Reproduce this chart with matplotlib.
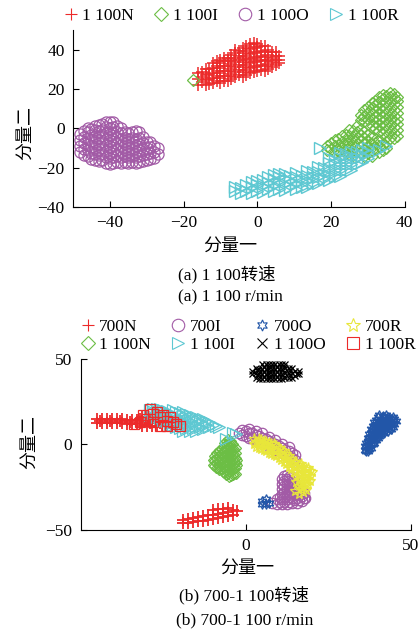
import numpy as np
import matplotlib
matplotlib.use("Agg")
import matplotlib.pyplot as plt
from matplotlib.lines import Line2D

plt.rcParams['font.family'] = ['Liberation Serif', 'Noto Sans CJK SC']
plt.rcParams['font.size'] = 12.5

# colours
red = '#EC2A2A'
green = '#6CBE45'
purple = '#A25BA6'
cyan = '#5EC8D2'
blue = '#2256A8'
yellow = '#E8E63A'

# points, kept as columns: (x, [y values at that x])
# ---- (a) 1 100 r/min
n1100_a = [(-16, [22, 25, 28]), (-14, [22, 24.5, 27, 30]), (-12, [23, 25.5, 28, 30.5, 33]),
           (-10, [23, 25.5, 28, 30.5, 33, 35]), (-8, [24, 26.5, 29, 31.5, 34, 36]),
           (-6, [26, 28.5, 31, 33.5, 36, 38.5, 40]), (-4, [26, 28.5, 31, 33.5, 36, 38.5, 41]),
           (-2, [28, 30.5, 33, 35.5, 38, 40.5, 43]), (0, [29, 31.5, 34, 36.5, 39, 41.5, 43]),
           (2, [29, 31.5, 34, 36.5, 39, 42]), (4, [31, 33.5, 36, 39]), (6, [33, 35, 37]),
           (-15, [23.5, 26, 28.5]), (-13, [22.5, 25, 27.5, 30]),
           (-11, [24, 26.5, 29, 31.5, 34]), (-9, [24, 26.5, 29, 31.5, 34, 36]),
           (-7, [25, 27.5, 30, 32.5, 35, 37.5]), (-5, [27, 29.5, 32, 34.5, 37, 39.5]),
           (-3, [27, 29.5, 32, 34.5, 37, 39.5, 42]), (-1, [28.5, 31, 33.5, 36, 38.5, 41, 43.5]),
           (1, [29.5, 32, 34.5, 37, 39.5, 42]), (3, [30, 32.5, 35, 37.5, 40]),
           (5, [32, 34.5, 37, 39])]
i1100_a = [(-17.5, [24.5]),
           (28, [4, 7]), (30, [2, 5, 8, 11]), (32, [0, 3, 6, 9, 12, 14]),
           (34, [-3, 0, 3, 6, 9, 12, 15, 17]), (36, [-5, -2, 1, 4, 7, 10, 13, 16, 18]),
           (38, [-4, -1, 2, 5, 8, 11, 14, 16]),
           (29, [3.5, 6.5, 9.5]), (31, [1.5, 4.5, 7.5, 10.5, 13]),
           (33, [-1.5, 1.5, 4.5, 7.5, 10.5, 13.5, 16]),
           (35, [-4.5, -1.5, 1.5, 4.5, 7.5, 10.5, 13.5, 16.5]),
           (37, [-5, -2.5, 0.5, 3.5, 6.5, 9.5, 12.5, 15.5, 17.5]),
           (19, [-11, -9]), (21, [-12, -9, -6]), (23, [-13, -10, -7, -4]),
           (25, [-13, -10, -7, -4, -1]), (27, [-14, -11, -8, -5, -2, 1]),
           (29, [-14, -11, -8, -5, -2]), (31, [-14, -11, -8, -5]), (33, [-12, -9, -6]),
           (35, [-10, -7]), (20, [-10.5, -7.5]), (22, [-11.5, -8.5, -5.5]),
           (24, [-12.5, -9.5, -6.5, -3.5]), (26, [-13.5, -10.5, -7.5, -4.5, -1.5]),
           (28, [-12.5, -9.5, -6.5, -3.5, -0.5]), (30, [-12.5, -9.5, -6.5, -3.5]),
           (32, [-10.5, -7.5]), (34, [-11, -8])]
o1100_a = [(-48, [-12, -9, -6, -3]), (-46, [-14, -11, -8, -5, -2, 0]),
           (-44, [-16, -13, -10, -7, -4, -1, 1]), (-42, [-16, -13, -10, -7, -4, -1, 2]),
           (-40, [-18, -15, -12, -9, -6, -3, 0, 3]), (-38, [-17, -14, -11, -8, -5, -2, 1]),
           (-36, [-17, -14, -11, -8, -5, -2]), (-34, [-17, -14, -11, -8, -5, -2]),
           (-32, [-17, -14, -11, -8, -5, -2]), (-30, [-16, -13, -10, -7]),
           (-28, [-15, -12, -9]),
           (-47, [-13.5, -10.5, -7.5, -4.5, -1.5]), (-45, [-15.5, -12.5, -9.5, -6.5, -3.5, -0.5]),
           (-43, [-16.5, -13.5, -10.5, -7.5, -4.5, -1.5, 1.5]),
           (-41, [-17.5, -14.5, -11.5, -8.5, -5.5, -2.5, 0.5, 3]),
           (-39, [-17.5, -14.5, -11.5, -8.5, -5.5, -2.5, 0.5, 3]),
           (-37, [-17.5, -14.5, -11.5, -8.5, -5.5, -2.5, 0]),
           (-35, [-17.5, -14.5, -11.5, -8.5, -5.5, -2.5]),
           (-33, [-17.5, -14.5, -11.5, -8.5, -5.5, -1.5]),
           (-31, [-16.5, -13.5, -10.5, -7.5, -4.5]), (-29, [-15.5, -12.5, -9.5, -7]),
           (-27, [-13, -10])]
r1100_a = [(-6, [-32, -30]), (-3, [-32, -29]), (0, [-32, -29, -27]), (3, [-31, -28, -25]),
           (6, [-31, -28, -25, -23]), (9, [-30, -27, -24]), (12, [-30, -27, -24]),
           (15, [-28, -25, -22]), (18, [-26, -23, -20]), (21, [-24, -21, -18, -16]),
           (24, [-21, -18, -15, -13]), (27, [-18, -15, -12]), (30, [-15, -12, -10]),
           (33, [-11]), (17, [-10]), (35, [-9]),
           (-4.5, [-33, -30.5]), (-1.5, [-33, -30, -27.5]), (1.5, [-32.5, -29.5, -26.5]),
           (4.5, [-32, -29, -26, -23.5]), (7.5, [-31.5, -28.5, -25.5, -23]),
           (10.5, [-31, -28, -25, -22.5]), (13.5, [-30, -27, -24, -21.5]),
           (16.5, [-28, -25, -22, -19.5]), (19.5, [-26.5, -23.5, -20.5, -17.5, -15]),
           (22.5, [-24, -21, -18, -15, -12.5]), (25.5, [-21, -18, -15, -12]),
           (28.5, [-17, -14, -11])]

# ---- (b) 700-1 100 r/min
n700_b = [(-45, [12.5, 15]), (-43.5, [12.5, 15]), (-42, [12.5, 15]), (-40.5, [12.5, 15]),
          (-39, [12.5, 15]), (-37.5, [12.5, 15]), (-36, [12, 14.5]), (-34.5, [12, 14.5]),
          (-33, [12, 14.5]), (-31.5, [11, 13.5, 16]), (-30, [11, 13.5, 16]),
          (-28.5, [11, 13.5, 16]), (-27, [11, 13.5, 16]), (-25.5, [11, 13.5, 16]),
          (-24, [11, 13.5, 16]), (-22.5, [11, 13.5]), (-21, [11, 13.5]), (-19.5, [12]),
          (-44, [13.8]), (-41, [13.8]), (-38, [13.8]), (-35, [13.3]), (-32, [12.3, 14.8]),
          (-29, [12.3, 14.8]), (-26, [12.3, 14.8]), (-23, [12.3, 14.8]), (-20, [12.3]),
          (-19, [-46, -44]), (-17.5, [-46, -43.5]), (-16, [-45.5, -43]),
          (-14.5, [-45, -42.5]), (-13, [-44.5, -42]), (-11.5, [-44, -41.5]),
          (-10, [-43.5, -41, -38.5]), (-8.5, [-43, -40.5, -38]), (-7, [-42.5, -40, -37.5]),
          (-5.5, [-42, -39.5, -37]), (-4, [-41, -38.5]), (-2.5, [-39])]
i700_b = [(-2, [7]), (0, [5, 8]), (2, [4, 7]), (4, [2, 5]), (6, [0, 3]), (8, [-2, 1]),
          (10, [-4, -1]), (12, [-6, -3]), (14, [-8, -5]),
          (-1, [5.5, 8.5]), (1, [3.5, 6.5, 9]), (3, [2.5, 5.5, 8]), (5, [1, 4, 6.5]),
          (7, [-1, 2, 4.5]), (9, [-3, 0, 2.5]), (11, [-5, -2, 0.5]), (13, [-7, -4, -1.5]),
          (15, [-9, -6]),
          (8, [-34]), (9.5, [-35, -32]), (11, [-35, -32, -29, -26, -23, -20]),
          (12.5, [-35, -32, -29, -26, -23, -20, -18]), (14, [-34, -31, -28, -25, -22, -19]),
          (15.5, [-34, -31, -28, -25]), (17, [-33, -30, -27]), (18, [-31]),
          (10.25, [-33.5, -30.5]), (11.75, [-33.5, -30.5, -27.5, -24.5, -21.5, -18.5]),
          (13.25, [-33.5, -30.5, -27.5, -24.5, -21.5, -19]),
          (14.75, [-32.5, -29.5, -26.5, -23.5, -20.5]), (16.25, [-32.5, -29.5, -26.5]),
          (17.75, [-31.5, -28.5])]
o700_b = [(36, [-3, -1]), (37, [-4, -1, 2, 4]), (38, [-2, 1, 4, 7, 9]),
          (39, [1, 4, 7, 10, 13]), (40, [4, 7, 10, 13, 16]), (41, [6, 9, 12, 15]),
          (42, [7, 10, 13, 16]), (43, [8, 11, 14, 16]), (44, [9, 12, 15]), (45, [12, 15]),
          (36.5, [-4, -1.5, 1]), (37.5, [-2.5, 0.5, 3.5, 6]), (38.5, [0, 3, 6, 8.5, 11]),
          (39.5, [2.5, 5.5, 8.5, 11.5, 14.5]), (40.5, [5, 8, 11, 14, 17]),
          (41.5, [7.5, 10.5, 13.5, 16.5]), (42.5, [8.5, 11.5, 14.5, 17]),
          (43.5, [9.5, 12.5, 15.5]), (44.5, [10.5, 13.5, 16]), (45.5, [13.5]),
          (5, [-33, -35]), (6, [-32, -35]), (7, [-34])]
r700_b = [(2.5, [0, 3]), (4, [-2, 1, 3]), (5.5, [-3, 0, 2]), (7, [-5, -2, 1]),
          (8.5, [-6, -3, 0]), (10, [-8, -5, -2]), (11.5, [-10, -7, -4]),
          (13, [-13, -10, -7]), (14.5, [-16, -13, -10]), (16, [-24, -21, -18, -15, -12]),
          (17.5, [-28, -25, -22, -19, -16, -13]), (19, [-23, -20, -17, -14]), (20, [-16]),
          (15, [-27]), (16, [-29]),
          (3.25, [-1.5, 1.5]), (4.75, [-2.5, 0.5, 2.5]), (6.25, [-4, -1, 1.5]),
          (7.75, [-5.5, -2.5, 0]), (9.25, [-7, -4, -1]), (10.75, [-9, -6, -3]),
          (12.25, [-11.5, -8.5, -5.5]), (13.75, [-14.5, -11.5, -8.5]),
          (15.25, [-22, -19, -16, -13, -10.5]), (16.75, [-26, -23, -20, -17, -14, -11.5]),
          (18.25, [-26.5, -23.5, -20.5, -17.5, -14.5]), (19.5, [-21.5, -18.5, -15.5])]
n1100_b = [(-10, [-12, -9]), (-9, [-14, -11, -8, -5]), (-8, [-15, -12, -9, -6, -3]),
           (-7, [-16, -13, -10, -7, -4]), (-6, [-18, -15, -12, -9, -6, -3, 0, 2]),
           (-5, [-19, -16, -13, -10, -7, -4, -1, 2]), (-4, [-18, -15, -12, -9, -6, -3, 0]),
           (-3, [-17, -14, -11, -8, -5, -2]), (-2.5, [-12, -9]),
           (-9.5, [-12.5, -9.5, -6.5]), (-8.5, [-13.5, -10.5, -7.5, -4.5]),
           (-7.5, [-14.5, -11.5, -8.5, -5.5, -2.5]),
           (-6.5, [-16.5, -13.5, -10.5, -7.5, -4.5, -1.5, 1]),
           (-5.5, [-17.5, -14.5, -11.5, -8.5, -5.5, -2.5, 0.5, 3]),
           (-4.5, [-18.5, -15.5, -12.5, -9.5, -6.5, -3.5, -0.5, 2]),
           (-3.5, [-17.5, -14.5, -11.5, -8.5, -5.5, -2.5])]
i1100_b = [(-29, [17, 20]), (-27, [16, 19, 21]), (-25, [14, 17, 20]), (-23, [12, 15, 18]),
           (-21, [10, 13, 16, 19]), (-19, [8, 11, 14, 17, 19]), (-17, [8, 11, 14, 17]),
           (-15, [8, 11, 14, 16]), (-13, [9, 12, 15]), (-11, [10, 13]), (-9, [11]),
           (-28, [18.5, 21]), (-26, [15.5, 18.5, 21]), (-24, [13.5, 16.5, 19.5]),
           (-22, [11.5, 14.5, 17.5, 20]), (-20, [9.5, 12.5, 15.5, 18.5]),
           (-18, [9.5, 12.5, 15.5, 18]), (-16, [9.5, 12.5, 15.5]), (-14, [10.5, 13.5, 15]),
           (-12, [11.5, 14]), (-10, [11.5]), (-8, [10.5]),
           (-4, [7]), (-6, [3]), (-3, [6])]
o1100_b = [(2, [41, 43]), (3, [39, 42, 45]), (4, [38, 41, 44]), (5, [38, 41, 44, 47]),
           (6, [38, 41, 44, 47]), (7, [38, 41, 44, 47]), (8, [38, 41, 44, 47]),
           (9, [38, 41, 44, 47]), (10, [38, 41, 44, 47]), (11, [38, 41, 44, 47]),
           (12, [39, 42, 45, 47]), (13, [39, 42, 45]), (14, [39, 42, 45]), (15, [40, 43]),
           (16, [41, 43]),
           (3.5, [40.5, 43.5]), (5.5, [39.5, 42.5, 45.5]), (7.5, [39.5, 42.5, 45.5]),
           (9.5, [39.5, 42.5, 45.5]), (11.5, [39.5, 42.5, 45.5]), (13.5, [40.5, 43.5]),
           (15.5, [41.5])]
r1100_b = [(-34, [12]), (-32, [13]), (-31, [17]), (-30, [15]), (-29, [21]), (-28, [13, 18]),
           (-27, [19]), (-26, [11, 16]), (-25, [17]), (-24, [11, 14]), (-23, [16]),
           (-22, [13]), (-21, [12]), (-20, [11])]

labels_a = ['1 100N', '1 100I', '1 100O', '1 100R']
labels_b = ['700N', '700I', '700O', '700R', '1 100N', '1 100I', '1 100O', '1 100R']

hexagram = (6, 1, 0)


def cols(c):
    return np.array([(x, y) for x, ys in c for y in ys], dtype=float)


def pts(ax, c, marker, color, ms, mew=0.9):
    d = cols(c)
    ax.plot(d[:, 0], d[:, 1], linestyle='none', marker=marker, ms=ms,
            mfc='none', mec=color, mew=mew)


def style(ax):
    for s in ['top', 'right']:
        ax.spines[s].set_visible(False)
    for s in ['left', 'bottom']:
        ax.spines[s].set_linewidth(0.8)
    ax.tick_params(direction='in', length=4, width=0.8, pad=6)


def proxy(marker, color, ms):
    return Line2D([], [], linestyle='none', marker=marker, ms=ms, mfc='none',
                  mec=color, mew=0.8)


fig = plt.figure(figsize=(4.19, 6.32), dpi=100)

# ---------- (a)
ax1 = fig.add_axes([0.174, 0.6725, 0.792, 0.28])
pts(ax1, n1100_a, '+', red, 8, 1.1)
pts(ax1, i1100_a, 'D', green, 6.5)
pts(ax1, o1100_a, 'o', purple, 8)
pts(ax1, r1100_a, '>', cyan, 9, 1.0)
ax1.set_xlim(-50, 40)
ax1.set_ylim(-40, 50)
ax1.set_xticks([-40, -20, 0, 20, 40])
ax1.set_yticks([-40, -20, 0, 20, 40])
style(ax1)

h_a = [proxy('+', red, 9), proxy('D', green, 7), proxy('o', purple, 9), proxy('>', cyan, 9)]
fig.legend(h_a, labels_a, loc='center', bbox_to_anchor=(231 / 419, 0.975), ncol=4,
           frameon=False, handlelength=0.8, handletextpad=0.25, columnspacing=1.2,
           borderpad=0, borderaxespad=0)

fig.text(0.06, 0.789, '分量二', rotation=90, ha='center', va='center', fontsize=13)
fig.text(230 / 419, 0.611, '分量一', ha='center', va='center', fontsize=13)
fig.text(227 / 419, 0.5665, '(a) 1 100转速', ha='center', va='center')
fig.text(230 / 419, 0.530, '(a) 1 100 r/min', ha='center', va='center')

# ---------- (b)
ax2 = fig.add_axes([0.1926, 0.1614, 0.7876, 0.2706])
pts(ax2, n700_b, '+', red, 8, 1.3)
pts(ax2, i700_b, 'o', purple, 7.5)
pts(ax2, o700_b, hexagram, blue, 7)
pts(ax2, r700_b, '*', yellow, 8)
pts(ax2, n1100_b, 'D', green, 5.5)
pts(ax2, i1100_b, '>', cyan, 8)
pts(ax2, o1100_b, 'x', 'black', 5)
pts(ax2, r1100_b, 's', red, 7)
ax2.set_xlim(-50, 50)
ax2.set_ylim(-50, 50)
ax2.set_xticks([0, 50])
ax2.set_yticks([-50, 0, 50])
style(ax2)

h_b = [proxy('+', red, 9), proxy('o', purple, 9), proxy(hexagram, blue, 8),
       proxy('*', yellow, 10), proxy('D', green, 7), proxy('>', cyan, 9),
       proxy('x', 'black', 7), proxy('s', red, 8)]
order = [0, 4, 1, 5, 2, 6, 3, 7]
fig.legend([h_b[i] for i in order], [labels_b[i] for i in order], loc='center',
           bbox_to_anchor=(248 / 419, 0.469), ncol=4, frameon=False, handlelength=0.8,
           handletextpad=0.25, columnspacing=1.2, labelspacing=0.1,
           borderpad=0, borderaxespad=0)

fig.text(29 / 419, 0.30, '分量二', rotation=90, ha='center', va='center', fontsize=13)
fig.text(247 / 419, 0.101, '分量一', ha='center', va='center', fontsize=13)
fig.text(244 / 419, 0.0585, '(b) 700-1 100转速', ha='center', va='center')
fig.text(245 / 419, 0.019, '(b) 700-1 100 r/min', ha='center', va='center')

fig.savefig('out.png', dpi=100)
